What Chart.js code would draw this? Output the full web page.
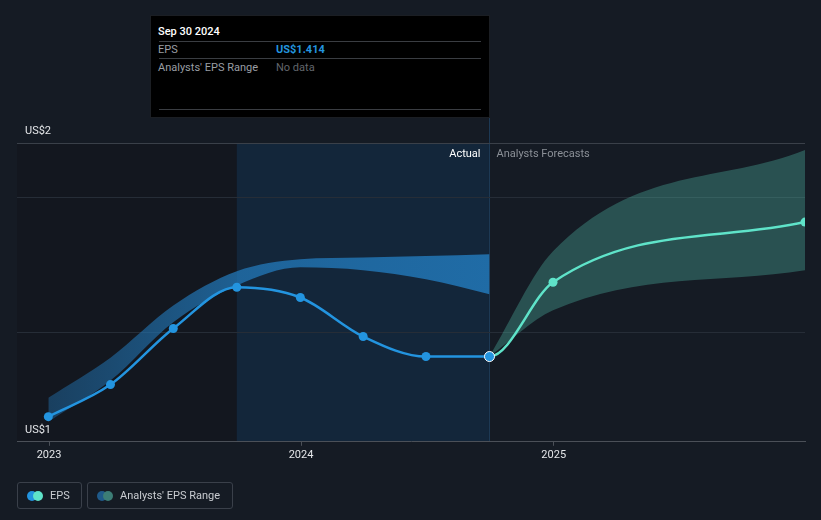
<!DOCTYPE html>
<html>
<head>
<meta charset="utf-8">
<script src="https://cdn.jsdelivr.net/npm/chart.js@4.4.1/dist/chart.umd.min.js"></script>
<style>
  html, body { margin: 0; padding: 0; background: #151b24; }
  body { width: 821px; height: 520px; position: relative; overflow: hidden; font-family: Roboto, "Noto Sans", sans-serif; }
  #wrap { position: absolute; left: 0; top: 0; width: 821px; height: 520px; }
  .tip { position: absolute; left: 150px; top: 15px; width: 340px; height: 103px; background: #000; box-sizing: border-box; border: 1px solid #1b1e23; }
  .tip .sep { position: absolute; left: 8px; right: 8px; height: 1px; background: #3a3d42; }
  .tip .t { position: absolute; font-size: 11px; white-space: nowrap; line-height: 13px; }
  .legend { position: absolute; top: 482px; height: 27px; box-sizing: border-box; border: 1px solid #3a404a; border-radius: 3px; color: #c9ccd1; font-size: 11px; line-height: 25px; }
  .legend .dot { position: absolute; top: 8px; width: 10px; height: 10px; border-radius: 50%; }
  .legend span.lbl { position: absolute; top: 0; }
</style>
</head>
<body>
<div id="wrap"><canvas id="epsChart" width="821" height="520"></canvas></div>

<div class="tip">
  <div class="t" style="left:7px;top:9px;color:#fff;font-weight:500;">Sep 30 2024</div>
  <div class="sep" style="top:25px;"></div>
  <div class="t" style="left:7px;top:27px;color:#9a9ea4;">EPS</div>
  <div class="t" style="left:125px;top:27px;color:#2394df;font-weight:bold;">US$1.414</div>
  <div class="sep" style="top:42px;"></div>
  <div class="t" style="left:7px;top:45px;color:#9a9ea4;">Analysts' EPS Range</div>
  <div class="t" style="left:125px;top:45px;color:#62666c;">No data</div>
  <div class="sep" style="top:93px;"></div>
</div>

<div class="legend" style="left:17px;width:65px;">
  <div class="dot" style="left:9px;background:#2394df;"></div>
  <div class="dot" style="left:15px;background:#5fe3c9;"></div>
  <span class="lbl" style="left:32px;">EPS</span>
</div>
<div class="legend" style="left:87px;width:146px;">
  <div class="dot" style="left:9px;background:#1f5a8a;"></div>
  <div class="dot" style="left:15px;background:#3c7d76;"></div>
  <span class="lbl" style="left:32px;">Analysts' EPS Range</span>
</div>

<script>
// EPS, actual quarters then analyst forecasts
const epsDates = ['2022-12-31', '2023-03-31', '2023-06-30', '2023-09-30', '2023-12-31',
                  '2024-03-31', '2024-06-30', '2024-09-30', '2024-12-31', '2025-12-31']
const epsValues = [1.249, 1.337, 1.491, 1.604, 1.576, 1.469, 1.414, 1.414, 1.618, 1.783]
const lastActual = 7

// past analyst range
const pastRangeDates = ['2022-12-31', '2023-03-31', '2023-06-30', '2023-09-30',
                        '2023-12-31', '2024-03-31', '2024-06-30', '2024-09-30']
const pastRangeHigh = [1.301, 1.411, 1.554, 1.648, 1.681, 1.686, 1.690, 1.695]
const pastRangeLow = [1.235, 1.348, 1.508, 1.609, 1.659, 1.651, 1.626, 1.585]

// forecast analyst range
const fcRangeDates = ['2024-09-30', '2024-12-31', '2025-12-31']
const fcRangeHigh = [1.414, 1.703, 1.981]
const fcRangeLow = [1.414, 1.541, 1.651]

const yTickValues = [1.18, 1.48, 1.851, 2.0]
const yTickLabels = ['US$1', '', '', 'US$2']
const xTickYears = [2023, 2024, 2025]

const BLUE = '#2394df'
const TEAL = '#5fe3c9'

const ts = d => Date.parse(d + 'T00:00:00Z')
const pts = (dates, vals) => dates.map((d, i) => ({ x: ts(d), y: vals[i] }))

const pastStart = ts('2023-09-30')
const actualEnd = ts('2024-09-30')
const yearMs = 365.25 * 864e5

const backdrop = {
    id: 'backdrop',
    beforeDraw(chart) {
        const { ctx, chartArea: a, scales: { x } } = chart
        const xs = x.getPixelForValue(pastStart)
        const xe = x.getPixelForValue(actualEnd)
        ctx.save()
        ctx.fillStyle = '#13171f'
        ctx.fillRect(a.left, a.top, xs - a.left, a.bottom - a.top)
        ctx.fillStyle = '#13263a'
        ctx.fillRect(xs, a.top, xe - xs, a.bottom - a.top)
        ctx.fillStyle = '#1e3a55'
        ctx.fillRect(xe - 0.5, 118, 1, a.bottom - 118)
        ctx.font = '11px Roboto'
        ctx.textBaseline = 'middle'
        ctx.textAlign = 'right'
        ctx.fillStyle = '#ffffff'
        ctx.fillText('Actual', xe - 9, a.top + 11)
        ctx.textAlign = 'left'
        ctx.fillStyle = '#8b9097'
        ctx.fillText('Analysts Forecasts', xe + 7, a.top + 11)
        ctx.restore()
    }
}

const pastFill = context => {
    const chart = context.chart
    if (!chart.chartArea) return 'rgba(34,120,185,0.7)'
    const x = chart.scales.x
    const x0 = x.getPixelForValue(ts('2022-12-31'))
    const x1 = x.getPixelForValue(actualEnd)
    const g = chart.ctx.createLinearGradient(x0, 0, x1, 0)
    g.addColorStop(0, 'rgba(34,120,185,0.42)')
    g.addColorStop(0.43, 'rgba(34,120,185,0.75)')
    g.addColorStop(1, 'rgba(34,120,185,0.85)')
    return g
}

let epsChart = new Chart(document.getElementById('epsChart'), {
    type: 'line',
    data: {
        datasets: [{
            label: 'EPS',
            data: pts(epsDates, epsValues),
            borderWidth: 2.5,
            cubicInterpolationMode: 'monotone',
            segment: {
                borderColor: c => c.p0DataIndex >= lastActual ? TEAL : BLUE
            },
            borderColor: BLUE,
            pointRadius: epsValues.map((v, i) => i === lastActual ? 5 : 4.5),
            pointBackgroundColor: epsValues.map((v, i) => i > lastActual ? TEAL : BLUE),
            pointBorderColor: epsValues.map((v, i) => i === lastActual ? '#ffffff' : (i > lastActual ? TEAL : BLUE)),
            pointBorderWidth: epsValues.map((v, i) => i === lastActual ? 1 : 0),
            clip: 0
        }, {
            label: 'pastLow',
            data: pts(pastRangeDates, pastRangeLow),
            borderWidth: 0,
            pointRadius: 0,
            cubicInterpolationMode: 'monotone',
            fill: false
        }, {
            label: 'pastHigh',
            data: pts(pastRangeDates, pastRangeHigh),
            borderWidth: 0,
            pointRadius: 0,
            cubicInterpolationMode: 'monotone',
            backgroundColor: pastFill,
            fill: '-1'
        }, {
            label: 'fcLow',
            data: pts(fcRangeDates, fcRangeLow),
            borderWidth: 0,
            pointRadius: 0,
            cubicInterpolationMode: 'monotone',
            fill: false
        }, {
            label: 'fcHigh',
            data: pts(fcRangeDates, fcRangeHigh),
            borderWidth: 0,
            pointRadius: 0,
            cubicInterpolationMode: 'monotone',
            backgroundColor: 'rgba(92,224,198,0.28)',
            fill: '-1'
        }]
    },
    options: {
        responsive: false,
        animation: false,
        layout: { padding: { left: 1, right: 16, top: 143, bottom: 55 } },
        plugins: { legend: { display: false }, tooltip: { enabled: false } },
        scales: {
            x: {
                type: 'linear',
                min: ts('2023-01-01') - 32 / 252 * yearMs,
                max: ts('2025-12-31'),
                afterBuildTicks: s => { s.ticks = xTickYears.map(y => ({ value: ts(y + '-01-01') })) },
                ticks: {
                    color: '#e4e6e9',
                    font: { family: 'Roboto', size: 11 },
                    padding: 3,
                    maxRotation: 0,
                    callback: v => String(new Date(v).getUTCFullYear())
                },
                grid: { drawOnChartArea: false, tickLength: 4, tickColor: '#4b5058' },
                border: { color: '#4b5058', width: 1 }
            },
            y: {
                min: 1.18,
                max: 2.0,
                afterBuildTicks: s => { s.ticks = yTickValues.map(v => ({ value: v })) },
                ticks: {
                    mirror: true,
                    padding: 8,
                    labelOffset: -12,
                    color: '#e4e6e9',
                    font: { family: 'Roboto', size: 11 },
                    callback: (v, i) => yTickLabels[i]
                },
                grid: {
                    drawTicks: false,
                    color: c => c.index === 0 ? 'transparent' : (c.index === yTickValues.length - 1 ? '#3a4049' : '#262d37')
                },
                border: { display: false }
            }
        }
    },
    plugins: [backdrop]
});
</script>
</body>
</html>
